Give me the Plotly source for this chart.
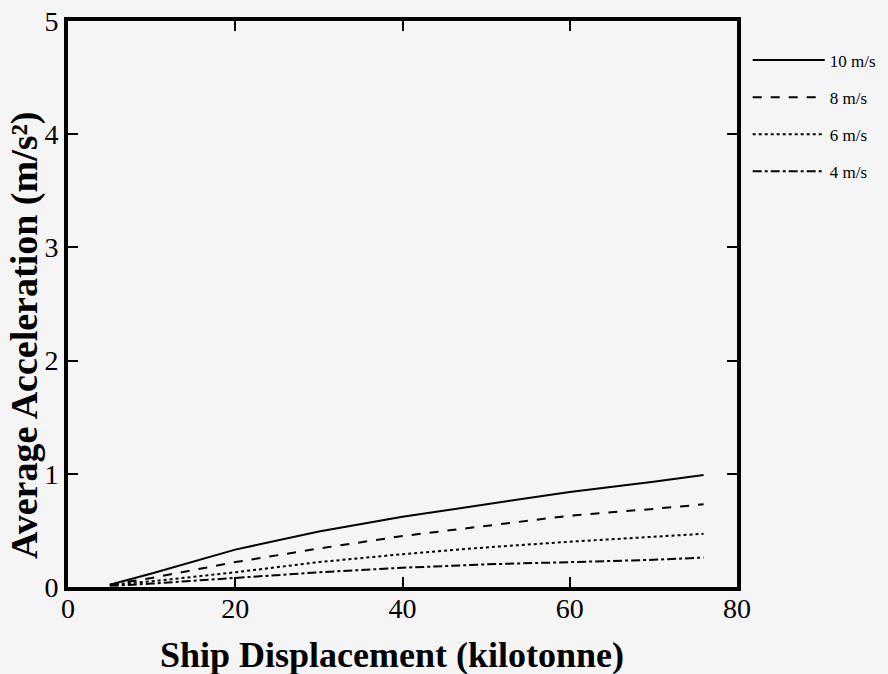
import plotly.graph_objects as go

displacement = [5, 10, 20, 30, 40, 50, 60, 70, 76]
acc_10 = [0.02, 0.12, 0.33, 0.49, 0.62, 0.73, 0.84, 0.93, 0.99]
acc_8 = [0.02, 0.08, 0.22, 0.34, 0.45, 0.54, 0.63, 0.69, 0.73]
acc_6 = [0.02, 0.05, 0.13, 0.22, 0.29, 0.35, 0.40, 0.44, 0.47]
acc_4 = [0.01, 0.03, 0.08, 0.13, 0.17, 0.20, 0.22, 0.24, 0.26]

series = [("10 m/s", acc_10, "solid"), ("8 m/s", acc_8, "dash"),
          ("6 m/s", acc_6, "dot"), ("4 m/s", acc_4, "dashdot")]

x_title = "Ship Displacement (kilotonne)"
y_title = "Average Acceleration (m/s²)"

FONT = "Liberation Serif, Times New Roman, serif"
BG = "#f5f5f5"

fig = go.Figure()
for i, (name, vals, dash) in enumerate(series):
    fig.add_trace(go.Scatter(x=displacement, y=vals, mode="lines", name=name,
                             legendgroup=f"g{i}",
                             line=dict(color="black", width=2, dash=dash)))

axis_common = dict(showline=True, linecolor="black", linewidth=4, mirror="ticks",
                   ticks="inside", ticklen=10, tickwidth=2, tickcolor="black",
                   showgrid=False, zeroline=False,
                   tickfont=dict(family=FONT, size=28, color="black"))

fig.update_layout(
    width=888, height=674,
    paper_bgcolor=BG, plot_bgcolor=BG,
    margin=dict(l=68, r=151, t=21, b=87, autoexpand=False),
    font=dict(family=FONT, color="black"),
    xaxis=dict(range=[0, 80], tickvals=[0, 20, 40, 60, 80],
               ticklabelstandoff=-7, **axis_common),
    yaxis=dict(range=[0, 5], tickvals=[0, 1, 2, 3, 4, 5], **axis_common),
    legend=dict(x=1.016, y=0.962, xanchor="left", yanchor="top",
                bgcolor="rgba(0,0,0,0)", font=dict(family=FONT, size=17),
                tracegroupgap=12, itemwidth=72),
    showlegend=True,
    annotations=[
        dict(text=f"<b>{x_title}</b>", xref="paper", yref="paper",
             x=0.484, y=-0.12, xanchor="center", yanchor="middle",
             showarrow=False, font=dict(family=FONT, size=36, color="black")),
        dict(text=f"<b>{y_title}</b>", xref="paper", yref="paper",
             x=-0.066, y=0.445, xanchor="center", yanchor="middle", textangle=-90,
             showarrow=False, font=dict(family=FONT, size=38, color="black")),
    ],
)

fig.write_html("out.html", config={"displayModeBar": False},
               post_script="document.body.style.margin='0';document.body.style.overflow='hidden';")
